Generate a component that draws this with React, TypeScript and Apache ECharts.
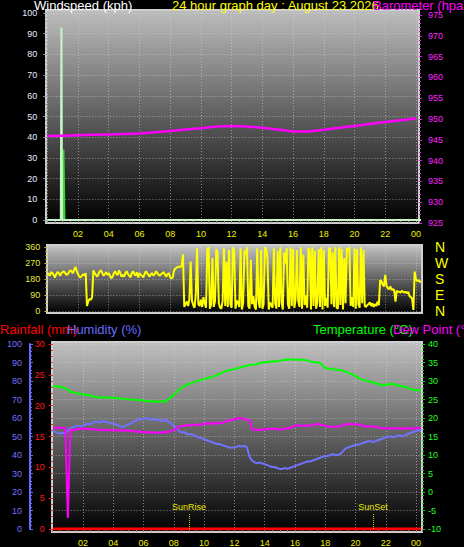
import React, { useEffect, useRef } from "react";
import * as echarts from "echarts";

// ---------- labels ----------
const HOUR_LABELS = ["02", "04", "06", "08", "10", "12", "14", "16", "18", "20", "22", "00"];
const COMPASS = ["N", "E", "S", "W", "N"];
const SUN_EVENTS = ["SunRise", "SunSet"];
const SUN_HOURS = [9.0, 21.15];

// ---------- top panel: wind (kph) & barometer (hPa) ----------
const GUST_HOURS = [0, 0.88, 0.92, 0.96, 24.33];
const GUST_KPH = [0, 0, 93, 0, 0];
const WIND_HOURS = [0, 1.0, 1.05, 1.12, 24.33];
const WIND_KPH = [0, 0, 34, 0, 0];
const BARO_HPA = [
  945.9, 946.0, 946.1, 946.2, 946.3, 946.4, 946.5, 946.8, 947.1, 947.5, 947.8, 948.2,
  948.3, 948.2, 947.9, 947.5, 947.0, 947.0, 947.4, 947.9, 948.3, 948.8, 949.3, 949.7, 950.1,
]; // hourly

// ---------- wind direction (degrees), one sample every 5 minutes ----------
const DIR_STEP_MIN = 5;
const WIND_DIR = [
  215, 210, 200, 220, 215, 205, 190, 210, 220, 215, 200, 215,
  220, 225, 215, 205, 210, 220, 230, 225, 215, 235, 250, 225,
  210, 195, 190, 200, 210, 200, 215, 30, 55, 70, 65, 80,
  230, 215, 205, 195, 210, 225, 230, 215, 200, 210, 220, 205,
  215, 200, 185, 195, 215, 225, 210, 205, 230, 215, 195, 205,
  195, 215, 225, 210, 200, 190, 215, 225, 210, 200, 220, 190,
  215, 205, 200, 190, 210, 225, 215, 205, 195, 210, 215, 200,
  210, 225, 215, 205, 200, 210, 215, 220, 205, 195, 210, 215,
  190, 185, 190, 230, 240, 245, 250, 250, 250, 255, 320, 25,
  40, 55, 30, 70, 280, 60, 35, 20, 95, 355, 40, 30,
  65, 25, 80, 45, 20, 350, 360, 15, 40, 300, 25, 55,
  350, 330, 45, 20, 15, 60, 355, 30, 280, 25, 345, 40,
  20, 360, 340, 15, 60, 50, 25, 355, 10, 45, 340, 320,
  360, 30, 15, 290, 40, 85, 25, 10, 355, 60, 20, 345,
  15, 40, 360, 350, 300, 10, 50, 35, 20, 355, 45, 15,
  340, 25, 360, 50, 10, 330, 270, 355, 40, 15, 360, 30,
  350, 20, 70, 345, 60, 25, 360, 15, 320, 35, 90, 20,
  355, 340, 10, 360, 30, 340, 15, 55, 350, 25, 360, 10,
  345, 30, 75, 20, 355, 355, 40, 330, 25, 360, 20, 15,
  360, 35, 350, 10, 300, 45, 355, 340, 360, 30, 80, 25,
  355, 15, 350, 40, 20, 360, 45, 345, 30, 25, 35, 40,
  50, 30, 45, 25, 40, 30, 55, 35, 175, 170, 150, 140,
  205, 145, 130, 125, 140, 120, 125, 120, 55, 115, 110, 110,
  105, 115, 110, 105, 110, 100, 110, 85, 80, 70, 8, 223,
  180, 170, 175, 165, 170,
];

// ---------- bottom panel, one sample every 10 minutes ----------
const CLIMATE_STEP_MIN = 10;
const TEMPERATURE_C = [
  28.6, 28.5, 28.6, 28.4, 28.3, 28.0,
  27.7, 27.2, 26.9, 26.8, 26.6, 26.5,
  26.4, 26.2, 26.3, 26.0, 25.8, 25.7,
  25.6, 25.5, 25.7, 25.5, 25.4, 25.6,
  25.4, 25.5, 25.3, 25.2, 25.3, 25.1,
  25.0, 25.1, 24.9, 24.9, 24.8, 24.9,
  24.7, 24.6, 24.5, 24.6, 24.4, 24.5,
  24.4, 24.5, 24.4, 24.6, 25.2, 25.7,
  26.3, 26.9, 27.6, 28.2, 28.6, 28.9,
  29.2, 29.5, 29.7, 29.9, 30.2, 30.3,
  30.5, 30.7, 30.9, 31.0, 31.3, 31.6,
  31.9, 32.2, 32.5, 32.8, 33.0, 33.0,
  33.2, 33.4, 33.6, 33.8, 34.0, 34.1,
  34.3, 34.5, 34.3, 34.6, 34.8, 35.0,
  35.1, 35.0, 35.3, 35.2, 35.4, 35.3,
  35.5, 35.7, 35.6, 35.9, 35.8, 35.9,
  35.7, 35.9, 35.6, 35.8, 35.7, 35.5,
  35.3, 35.1, 35.0, 35.1, 34.8, 34.2,
  33.5, 33.3, 33.4, 33.2, 33.1, 33.0,
  33.0, 32.8, 32.5, 32.2, 32.0, 31.7,
  31.3, 30.9, 30.5, 30.3, 30.1, 30.0,
  29.8, 29.6, 29.5, 29.2, 28.9, 28.8,
  29.0, 29.2, 29.1, 29.2, 29.0, 28.8,
  28.6, 28.5, 28.4, 28.1, 27.8, 27.6,
  27.6, 27.5, 27.4,
];
const HUMIDITY_PCT = [
  53, 52.5, 52, 51.5, 52, 51.5,
  53, 54.5, 55, 55.5, 56, 55.5,
  56, 56.5, 57, 56.5, 57.5, 58,
  58, 57.5, 58.5, 58, 57.5, 57,
  57, 56.5, 56, 55.5, 55, 56,
  56.5, 57, 58, 58.5, 59.5, 59,
  59.5, 60, 59.5, 59, 59.5, 59,
  59, 58.5, 59, 58.5, 58, 57,
  55.5, 54.5, 53, 52, 52.5, 51.5,
  51, 51.5, 50.5, 50, 49.5, 49,
  48.5, 48, 47.5, 47, 46.5, 46,
  46, 45.5, 45, 44.5, 44, 44,
  44, 44.5, 45, 44.5, 45, 44,
  39, 37, 36, 35.5, 36, 35.5,
  35, 34.5, 34, 33.5, 33.5, 33,
  32.5, 32.5, 33, 32.5, 33, 33.5,
  34, 34.5, 35, 35.5, 36, 36.5,
  36.5, 37, 37.5, 38, 38.5, 39,
  39.5, 39.5, 40, 40.5, 40, 40,
  40.5, 42, 43.5, 44, 44.5, 45,
  45.5, 45.5, 46, 46.5, 47, 47.5,
  47.5, 47, 47.5, 48, 48.5, 49,
  49.5, 50, 50, 49.5, 50, 50.5,
  50.5, 50, 51, 51.5, 52, 52.5,
  53, 53.5, 53,
];
const DEW_POINT_C = [
  17.4, 17.3, 17.5, 17.2, 17.4, 17.3,
  -7.0, 16.9, 16.7, 17.0, 16.9, 17.1,
  17.2, 17.0, 17.1, 16.9, 17.0, 16.8,
  16.9, 16.8, 16.7, 16.8, 16.6, 16.8,
  16.7, 16.6, 16.8, 16.5, 16.6, 16.7,
  16.6, 16.5, 16.4, 16.3, 16.4, 16.2,
  16.2, 16.1, 16.3, 16.0, 16.1, 16.0,
  16.1, 16.0, 16.2, 16.1, 16.3, 16.5,
  16.8, 17.1, 17.6, 17.8, 18.0, 17.9,
  18.1, 18.0, 18.2, 18.1, 18.3, 18.2,
  18.4, 18.6, 18.5, 18.6, 18.4, 18.6,
  18.7, 18.6, 18.9, 19.2, 19.4, 19.5,
  19.6, 19.8, 20.0, 19.9, 19.7, 19.5,
  19.4, 17.0, 16.8, 16.9, 16.7, 16.9,
  17.1, 16.9, 17.0, 17.2, 16.9, 17.1,
  17.0, 16.8, 17.1, 17.3, 17.2, 17.6,
  17.9, 18.1, 17.8, 18.0, 17.9, 18.1,
  17.8, 18.0, 18.3, 18.4, 18.2, 18.1,
  17.9, 17.7, 17.6, 17.7, 17.6, 17.8,
  17.7, 18.0, 18.3, 18.4, 18.3, 18.4,
  18.2, 18.3, 18.1, 17.9, 17.8, 17.7,
  17.8, 17.6, 17.7, 17.4, 17.3, 17.2,
  17.3, 17.1, 17.2, 17.2, 17.3, 17.1,
  17.2, 17.1, 17.3, 17.2, 17.1, 17.2,
  17.2, 17.3, 17.2,
];
const RAIN_HOURS = [0, 24.33];
const RAIN_MM = [0, 0];

// ---------- helpers ----------
const FONT = "Arial, 'Liberation Sans', Helvetica, sans-serif";
const GRID_DOT = { color: "rgba(215,215,215,0.55)", type: [1, 2] as number[], width: 1 };

function hourLabel(v: number): string {
  const r = Math.round(v);
  if (Math.abs(v - r) > 1e-6 || r <= 0 || r % 2 !== 0 || r > 24) return "";
  return HOUR_LABELS[r / 2 - 1];
}

function pairs(xs: number[], ys: number[]) {
  return ys.map((y, i) => [xs[i], y]);
}

function stepped(values: number[], stepMin: number) {
  return values.map((v, i) => [(i * stepMin) / 60, v]);
}

function xAxis(gridIndex: number, max: number, labels: boolean, split: boolean) {
  return {
    type: "value",
    gridIndex,
    min: 0,
    max,
    interval: 2,
    show: labels || split,
    axisLine: { show: false, onZero: false },
    axisTick: { show: labels, length: 3, lineStyle: { color: "#8c8c8c" } },
    minorTick: { show: labels, splitNumber: 4, length: 3, lineStyle: { color: "#8c8c8c" } },
    axisLabel: {
      show: labels,
      color: "#f0f000",
      fontSize: 9,
      fontFamily: FONT,
      margin: 9,
      formatter: hourLabel,
    },
    splitLine: { show: split, lineStyle: GRID_DOT },
  };
}

function panel(x: number, y: number, w: number, h: number, top: string) {
  return {
    type: "rect",
    z: -1,
    silent: true,
    shape: { x, y, width: w, height: h },
    style: {
      fill: new echarts.graphic.LinearGradient(0, 0, 0, 1, [
        { offset: 0, color: top },
        { offset: 1, color: "#000000" },
      ]),
      stroke: "#cfcfcf",
      lineWidth: 2,
    },
  };
}

function title(text: string, x: number, y: number, fill: string) {
  return {
    type: "text",
    x,
    y,
    z: 10,
    silent: true,
    style: { text, fill, fontSize: 13, fontFamily: FONT, verticalAlign: "middle", align: "left" },
  };
}

function buildOption() {
  return {
    animation: false,
    backgroundColor: "#000000",
    textStyle: { fontFamily: FONT },
    grid: [
      { left: 47.3, top: 13, width: 371.7, height: 207 }, // wind
      { left: 47.3, top: 15, width: 371.7, height: 208 }, // barometer
      { left: 47.3, top: 247.3, width: 374.8, height: 64 }, // wind direction
      { left: 52.7, top: 344, width: 369.4, height: 185 }, // rain / humidity / temp
    ],
    xAxis: [
      xAxis(0, 24.2, true, true),
      xAxis(1, 24.2, false, false),
      xAxis(2, 24.4, false, true),
      xAxis(3, 24.4, true, true),
    ],
    yAxis: [
      {
        type: "value", gridIndex: 0, min: 0, max: 100, interval: 10, position: "left",
        axisLine: { show: false, onZero: false },
        axisTick: { show: true, length: 4, lineStyle: { color: "#a0a0a8" } },
        minorTick: { show: true, splitNumber: 5, length: 2, lineStyle: { color: "#a0a0a8" } },
        axisLabel: { color: "#e6ecff", fontSize: 9, margin: 10 },
        splitLine: { show: true, lineStyle: GRID_DOT },
      },
      {
        type: "value", gridIndex: 1, min: 925, max: 975, interval: 5, position: "right",
        axisLine: { show: false, onZero: false },
        axisTick: { show: true, length: 3, lineStyle: { color: "#e020e0" } },
        minorTick: { show: true, splitNumber: 5, length: 2, lineStyle: { color: "#e020e0" } },
        axisLabel: { color: "#ff22ff", fontSize: 9, margin: 9 },
        splitLine: { show: false },
      },
      {
        type: "value", gridIndex: 2, min: 0, max: 360, interval: 90, position: "left",
        axisLine: { show: false, onZero: false },
        axisTick: { show: true, length: 3, lineStyle: { color: "#b8b830" } },
        minorTick: { show: true, splitNumber: 4, length: 2, lineStyle: { color: "#b8b830" } },
        axisLabel: { color: "#e6e63c", fontSize: 9, margin: 7 },
        splitLine: { show: true, lineStyle: GRID_DOT },
      },
      {
        type: "value", gridIndex: 2, min: 0, max: 360, interval: 90, position: "right",
        axisLine: { show: false, onZero: false },
        axisTick: { show: false },
        axisLabel: {
          color: "#ffff00", fontSize: 14, margin: 13,
          formatter: (v: number) => COMPASS[Math.round(v / 90)] ?? "",
        },
        splitLine: { show: false },
      },
      {
        type: "value", gridIndex: 3, min: 0, max: 100, interval: 10, position: "left", offset: 22.7,
        axisLine: { show: true, onZero: false, lineStyle: { color: "#6a6aff", width: 2 } },
        axisTick: { show: true, inside: true, length: 3, lineStyle: { color: "#6a6aff" } },
        minorTick: { show: true, splitNumber: 5, length: 2, lineStyle: { color: "#6a6aff" } },
        axisLabel: { color: "#7474ff", fontSize: 9, margin: 8 },
        splitLine: { show: true, lineStyle: GRID_DOT },
      },
      {
        type: "value", gridIndex: 3, min: 0, max: 30, interval: 5, position: "left",
        axisLine: { show: false, onZero: false },
        axisTick: { show: true, length: 4, lineStyle: { color: "#e01010" } },
        minorTick: { show: true, splitNumber: 5, length: 2, lineStyle: { color: "#e01010" } },
        axisLabel: { color: "#ff1a1a", fontSize: 9, margin: 8 },
        splitLine: { show: false },
      },
      {
        type: "value", gridIndex: 3, min: -10, max: 40, interval: 5, position: "right",
        axisLine: { show: false, onZero: false },
        axisTick: { show: true, length: 3, lineStyle: { color: "#10d010" } },
        minorTick: { show: true, splitNumber: 5, length: 2, lineStyle: { color: "#10d010" } },
        axisLabel: { color: "#22ff22", fontSize: 9, margin: 6 },
        splitLine: { show: false },
      },
    ],
    series: [
      {
        name: "Windspeed", type: "line", xAxisIndex: 0, yAxisIndex: 0, symbol: "none",
        data: pairs(WIND_HOURS, WIND_KPH),
        lineStyle: { color: "#2ee02e", width: 2 },
      },
      {
        name: "Gust", type: "line", xAxisIndex: 0, yAxisIndex: 0, symbol: "none",
        data: pairs(GUST_HOURS, GUST_KPH),
        lineStyle: { color: "#c8f4c8", width: 2 },
      },
      {
        name: "Barometer", type: "line", xAxisIndex: 1, yAxisIndex: 1, symbol: "none",
        data: stepped(BARO_HPA, 60),
        lineStyle: { color: "#ff00ff", width: 2.5 },
      },
      {
        name: "Wind direction", type: "line", xAxisIndex: 2, yAxisIndex: 2, symbol: "none",
        data: stepped(WIND_DIR, DIR_STEP_MIN),
        lineStyle: { color: "#ffff00", width: 2 },
      },
      {
        name: "Humidity", type: "line", xAxisIndex: 3, yAxisIndex: 4, symbol: "none",
        data: stepped(HUMIDITY_PCT, CLIMATE_STEP_MIN),
        lineStyle: { color: "#7272ff", width: 2 },
      },
      {
        name: "Temperature", type: "line", xAxisIndex: 3, yAxisIndex: 6, symbol: "none",
        data: stepped(TEMPERATURE_C, CLIMATE_STEP_MIN),
        lineStyle: { color: "#00ff00", width: 2 },
      },
      {
        name: "Dew Point", type: "line", xAxisIndex: 3, yAxisIndex: 6, symbol: "none",
        data: stepped(DEW_POINT_C, CLIMATE_STEP_MIN),
        lineStyle: { color: "#ff00ff", width: 2 },
        markLine: {
          silent: true,
          symbol: ["none", "none"],
          lineStyle: { color: "#d0d000", type: [1, 1], width: 1 },
          label: {
            show: true, position: "end", distance: 2, color: "#e8e800", fontSize: 9,
            formatter: (p: any) => p.name,
          },
          data: SUN_HOURS.map((h, i) => [
            { name: SUN_EVENTS[i], coord: [h, -10] },
            { coord: [h, -5.8] },
          ]),
        },
      },
      {
        name: "Rainfall", type: "line", xAxisIndex: 3, yAxisIndex: 5, symbol: "none",
        data: pairs(RAIN_HOURS, RAIN_MM),
        lineStyle: { color: "#ff0000", width: 3 },
      },
    ],
    graphic: [
      panel(46, 10, 373, 213, "#bdbdbd"),
      panel(47, 245, 375, 68, "#c4c4c4"),
      panel(52, 342, 370, 190, "#c0c0c0"),
      title("Windspeed (kph)", 34, 5, "#ffffff"),
      title("24 hour graph day : August 23 2026", 172, 5, "#ffff00"),
      title("Barometer (hpa)", 373, 5, "#ff00ff"),
      title("Rainfall (mm)", 0, 329, "#ff0000"),
      title("Humidity (%)", 67, 329, "#6a6aff"),
      title("Temperature (°C)", 313, 329, "#00ff00"),
      title("Dew Point (°C)", 393, 329, "#ff00ff"),
    ],
  };
}

export default function App() {
  const ref = useRef<HTMLDivElement>(null);
  useEffect(() => {
    document.body.style.margin = "0";
    document.body.style.background = "#000";
    if (!ref.current) return;
    const chart = echarts.init(ref.current, null, { renderer: "svg" });
    chart.setOption(buildOption() as any);
    return () => chart.dispose();
  }, []);
  return <div ref={ref} style={{ width: 464, height: 547, background: "#000" }} />;
}
